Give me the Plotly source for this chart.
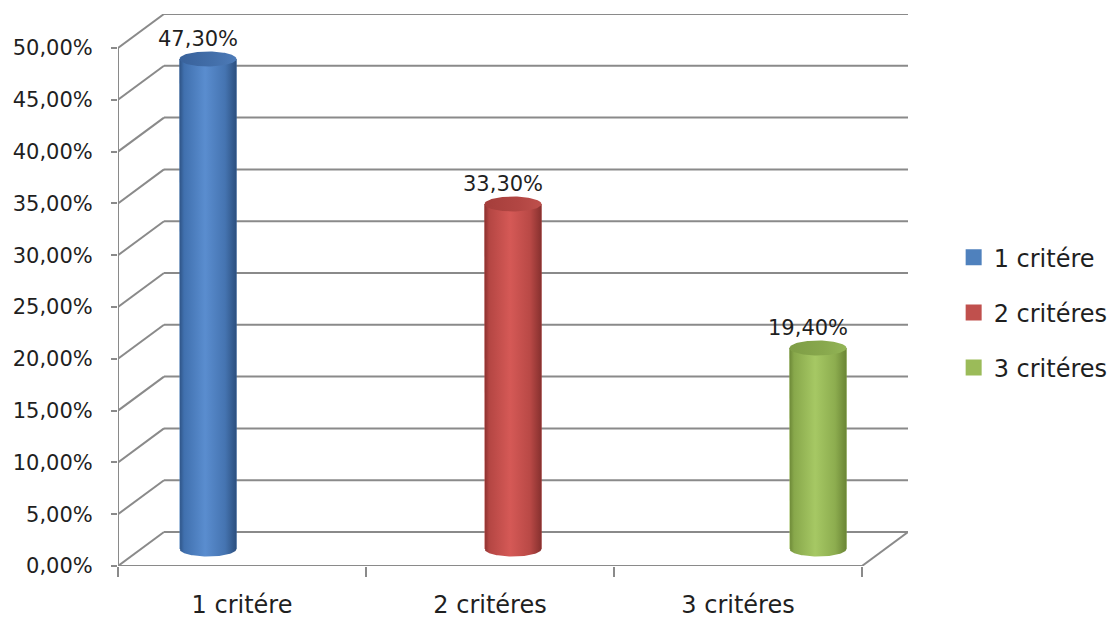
import numpy as np
import plotly.graph_objects as go

# ---- data ---------------------------------------------------------------
categories = ["1 critére", "2 critéres", "3 critéres"]
series_names = ["1 critére", "2 critéres", "3 critéres"]
values = [0.473, 0.333, 0.194]
y_ticks = [0.00, 0.05, 0.10, 0.15, 0.20, 0.25, 0.30, 0.35, 0.40, 0.45, 0.50]

# ---- styling --------------------------------------------------------------
base_colors = ["#4F81BD", "#C0504D", "#9BBB59"]
body_scales = [
    [[0, "#2E5385"], [0.08, "#4070AE"], [0.45, "#5A8DCF"], [0.8, "#4574B1"], [1, "#2C4F7E"]],
    [[0, "#8A302E"], [0.08, "#B44643"], [0.45, "#D55956"], [0.8, "#B94946"], [1, "#86302E"]],
    [[0, "#6C8837"], [0.08, "#88A84B"], [0.45, "#A6C864"], [0.8, "#8DAD4F"], [1, "#6A8535"]],
]
top_scales = [
    [[0, "#38619A"], [0.6, "#436FAA"], [1, "#4D7BB8"]],
    [[0, "#A53E3B"], [0.6, "#B24643"], [1, "#BE504C"]],
    [[0, "#7E9D45"], [0.6, "#88A84D"], [1, "#93B556"]],
]
grid_color = "#8A8A8A"
text_color = "#1F1F1F"
font_family = "DejaVu Sans"

# ---- pseudo-3D geometry (pixels) -----------------------------------------
W, H = 1118, 622
M_L, M_R, M_T, M_B = 118, 210, 14, 56
DEPTH_X, DEPTH_Y = 46, 34          # back wall offset
CYL_W = 57                          # cylinder diameter
CAP_H = 7.5                         # half height of the elliptical caps

n_cat = len(categories)
n_ser = len(series_names)
plot_w = W - M_L - M_R
plot_h = H - M_T - M_B
px_per_cat = (plot_w - DEPTH_X) / n_cat
y_top = y_ticks[-1]
px_per_unit = (plot_h - DEPTH_Y) / y_top

dx = DEPTH_X / px_per_cat           # depth offset in category units
dy = DEPTH_Y / px_per_unit          # depth offset in value units

x_range = [-0.5, n_cat - 0.5 + dx]
y_range = [0, y_top + dy]
# cylinders stand half-way into the depth
x2_range = [r - dx / 2 for r in x_range]
y2_range = [r - dy / 2 for r in y_range]

bargap = 1 - n_ser * CYL_W / px_per_cat
bw = (1 - bargap) / n_ser           # bar width in category units
a = bw / 2
b = CAP_H / px_per_unit

fig = go.Figure()

# bars (one series per category, grouped as in a clustered column chart)
centers = []
for j, (name, v) in enumerate(zip(series_names, values)):
    yv = [v if k == j else None for k in range(n_cat)]
    fig.add_trace(go.Bar(
        x=list(range(n_cat)), y=yv, name=name,
        marker=dict(color=base_colors[j], line=dict(width=0)),
        xaxis="x2", yaxis="y2", legendgroup=name, showlegend=False,
        hoverinfo="skip",
    ))
    centers.append(j + (j - (n_ser - 1) / 2) * bw)

# cylinder shading: body with horizontal gradient, then the top cap
t_bot = np.linspace(np.pi, 2 * np.pi, 60)
t_all = np.linspace(0, 2 * np.pi, 120)
for j, (c, v) in enumerate(zip(centers, values)):
    bx = np.concatenate([[c - a], c + a * np.cos(t_bot), [c + a, c - a]])
    by = np.concatenate([[v], b * np.sin(t_bot), [v, v]])
    fig.add_trace(go.Scatter(
        x=bx, y=by, mode="lines", line=dict(width=0),
        fill="toself",
        fillgradient=dict(type="horizontal", colorscale=body_scales[j]),
        xaxis="x2", yaxis="y2", showlegend=False, hoverinfo="skip",
    ))
    fig.add_trace(go.Scatter(
        x=c + a * np.cos(t_all), y=v + b * np.sin(t_all),
        mode="lines", line=dict(width=0), fill="toself",
        fillgradient=dict(type="horizontal", colorscale=top_scales[j]),
        xaxis="x2", yaxis="y2", showlegend=False, hoverinfo="skip",
    ))
    fig.add_annotation(
        x=c, y=v, xref="x2", yref="y2",
        text=f"{v * 100:.2f}%".replace(".", ","),
        showarrow=False, xshift=-10, yshift=20,
        font=dict(family=font_family, size=21, color=text_color),
    )

# legend keys: square swatches in the series colours
for j, name in enumerate(series_names):
    fig.add_trace(go.Scatter(
        x=[None], y=[None], mode="markers", name=name, legendgroup=name,
        marker=dict(symbol="square", size=16, color=base_colors[j]),
        xaxis="x2", yaxis="y2", hoverinfo="skip",
    ))

# walls and floor
shapes = []
line = dict(color=grid_color, width=2)
x0, x1 = -0.5, n_cat - 0.5
for t in y_ticks:
    # back wall gridline
    shapes.append(dict(type="line", xref="x", yref="y", x0=x0 + dx, x1=x1 + dx,
                       y0=t + dy, y1=t + dy, line=line, layer="below"))
    # side wall diagonal
    shapes.append(dict(type="line", xref="x", yref="y", x0=x0, x1=x0 + dx,
                       y0=t, y1=t + dy, line=line, layer="below"))
# front edges of the box
shapes.append(dict(type="line", xref="x", yref="y", x0=x0, x1=x0, y0=0, y1=y_top,
                   line=line, layer="below"))
shapes.append(dict(type="line", xref="x", yref="y", x0=x0, x1=x1, y0=0, y1=0,
                   line=line, layer="below"))
shapes.append(dict(type="line", xref="x", yref="y", x0=x1, x1=x1 + dx, y0=0, y1=dy,
                   line=line, layer="below"))

fig.update_layout(
    width=W, height=H,
    margin=dict(l=M_L, r=M_R, t=M_T, b=M_B, autoexpand=False),
    paper_bgcolor="white", plot_bgcolor="rgba(0,0,0,0)",
    separators=", ",
    barmode="group", bargap=bargap, bargroupgap=0,
    shapes=shapes,
    font=dict(family=font_family, color=text_color),
    xaxis=dict(
        type="category", categoryorder="array", categoryarray=categories,
        tickvals=categories, ticktext=categories,
        range=x_range, showgrid=False, zeroline=False, showline=False,
        ticks="outside", tickson="boundaries", ticklen=10, tickwidth=2,
        tickcolor=grid_color, ticklabelstandoff=22, automargin=False,
        tickfont=dict(family=font_family, size=24, color=text_color),
        fixedrange=True,
    ),
    yaxis=dict(
        range=y_range, tickvals=y_ticks, tickformat=".2%",
        showgrid=False, zeroline=False, showline=False,
        ticks="outside", ticklen=6, tickwidth=2, tickcolor=grid_color,
        ticklabelstandoff=14, automargin=False,
        tickfont=dict(family=font_family, size=21, color=text_color),
        fixedrange=True,
    ),
    xaxis2=dict(range=x2_range, overlaying="x", visible=False, fixedrange=True),
    yaxis2=dict(range=y2_range, overlaying="y", visible=False, fixedrange=True),
    legend=dict(
        xref="container", yref="container",
        x=0.853, xanchor="left", y=0.622, yanchor="top",
        traceorder="grouped", tracegroupgap=21,
        font=dict(family=font_family, size=24, color=text_color),
        bgcolor="rgba(0,0,0,0)",
    ),
    showlegend=True,
)

fig.write_html("out.html")
